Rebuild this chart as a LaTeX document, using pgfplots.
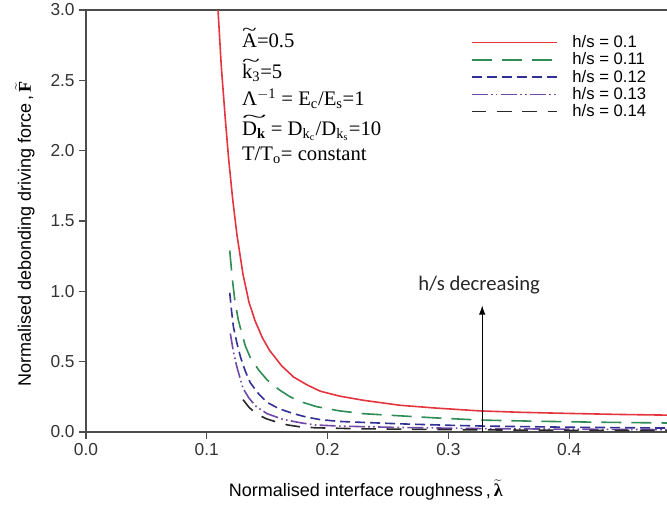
\documentclass[border=0pt]{standalone}
\usepackage{graphicx}
\usepackage{pgfplots}
\pgfplotsset{compat=1.18}
\usepackage{fontspec}
\setmainfont{Liberation Sans}
\newfontfamily\serif{Liberation Serif}
\newfontfamily\carlito{Carlito}
\usetikzlibrary{arrows.meta}
\definecolor{cred}{RGB}{228,52,62}
\definecolor{cgreen}{RGB}{46,140,84}
\definecolor{cblue}{RGB}{50,48,150}
\definecolor{cpurple}{RGB}{112,72,168}
\definecolor{cblack}{RGB}{40,40,40}
\newcommand\tl[2]{\leavevmode\rlap{\raisebox{0.6em}{\scalebox{#1}[0.85]{\textasciitilde}}}#2}
\begin{document}
\begin{tikzpicture}
\begin{axis}[
  scale only axis,
  width=435.75pt, height=316.5pt,
  xmin=0, xmax=0.481, ymin=0, ymax=3,
  axis x line*=box, axis y line*=left,
  xtick pos=lower,
  axis line style={draw=black!70, line width=1pt},
  xtick={0,0.1,0.2,0.3,0.4},
  ytick={0,0.5,1,1.5,2,2.5,3},
  tick align=outside,
  major tick length=5pt,
  tick style={draw=black!70, line width=0.8pt},
  /pgf/number format/assume math mode=true,
  /pgf/number format/.cd, fixed, fixed zerofill, precision=1, /pgfplots/.cd,
  ticklabel style={font=\fontsize{13}{15}\selectfont, text=black!80},
  xlabel={Normalised interface roughness\,,\,$\widetilde{\mbox{\serif\bfseries λ}}$},
  ylabel={Normalised debonding driving force\,,\,$\widetilde{\mbox{\serif\bfseries F}}$},
  label style={font=\fontsize{13.5}{15}\selectfont},
  xlabel style={yshift=-11pt, xshift=-8pt},
  ylabel style={xshift=-10pt, yshift=5pt},
  legend style={at={(rel axis cs:0.655,0.953)}, anchor=north west, draw=none, fill=none,
    nodes={font=\fontsize{12.5}{14}\selectfont}, row sep=-1.6pt},
  legend cell align=left,
  legend image code/.code={\draw[#1] (0pt,0pt) -- (64pt,0pt);},
  every axis legend/.append style={/tikz/every odd column/.append style={column sep=9pt}},
]
\addplot[cred, line width=1.2pt] coordinates {
(0.1093,3.0) (0.112,2.6) (0.1151,2.25) (0.118,1.95) (0.1215,1.65) (0.125,1.40) (0.130,1.12) (0.135,0.92) (0.140,0.79) (0.146,0.67) (0.152,0.58) (0.162,0.47) (0.172,0.39) (0.183,0.335) (0.194,0.29) (0.21,0.255) (0.23,0.225) (0.26,0.19) (0.29,0.17) (0.326,0.15) (0.36,0.14) (0.40,0.132) (0.44,0.125) (0.481,0.12)};
\addlegendentry{h/s = 0.1}
\addplot[cgreen, line width=1.2pt, dash pattern=on 15pt off 7.5pt] coordinates {
(0.119,1.29) (0.121,1.10) (0.123,0.95) (0.126,0.80) (0.129,0.70) (0.132,0.61) (0.136,0.53) (0.143,0.44) (0.150,0.37) (0.160,0.30) (0.169,0.25) (0.178,0.215) (0.191,0.18) (0.21,0.15) (0.23,0.13) (0.26,0.115) (0.29,0.10) (0.326,0.085) (0.37,0.077) (0.42,0.07) (0.481,0.064)};
\addlegendentry{h/s = 0.11}
\addplot[cblue, line width=1.2pt, dash pattern=on 7.5pt off 3.75pt] coordinates {
(0.119,0.99) (0.1205,0.86) (0.122,0.75) (0.125,0.63) (0.128,0.53) (0.132,0.43) (0.136,0.35) (0.143,0.27) (0.150,0.21) (0.160,0.165) (0.172,0.13) (0.183,0.105) (0.194,0.088) (0.21,0.075) (0.23,0.068) (0.26,0.058) (0.30,0.048) (0.33,0.042) (0.40,0.034) (0.481,0.028)};
\addlegendentry{h/s = 0.12}
\addplot[cpurple, line width=1.2pt, dash pattern=on 12pt off 2.5pt on 1.2pt off 2.5pt on 1.2pt off 2.5pt] coordinates {
(0.1195,0.70) (0.122,0.57) (0.125,0.46) (0.128,0.37) (0.130,0.31) (0.135,0.24) (0.141,0.18) (0.150,0.13) (0.163,0.09) (0.178,0.065) (0.19,0.05) (0.21,0.042) (0.26,0.032) (0.33,0.024) (0.40,0.02) (0.481,0.017)};
\addlegendentry{h/s = 0.13}
\addplot[cblack, line width=1.2pt, dash pattern=on 11pt off 8pt] coordinates {
(0.130,0.23) (0.135,0.175) (0.141,0.13) (0.149,0.095) (0.158,0.07) (0.167,0.05) (0.177,0.037) (0.19,0.03) (0.22,0.024) (0.26,0.02) (0.33,0.015) (0.40,0.012) (0.481,0.01)};
\addlegendentry{h/s = 0.14}
\draw[-{Latex[length=7pt,width=5pt]}, line width=0.8pt] (axis cs:0.328,0) -- (axis cs:0.328,0.90);
\node[font=\carlito\fontsize{15.5}{17}\selectfont, text=black!85] at (axis cs:0.3255,1.045) {h/s decreasing};
\begin{scope}[every node/.style={anchor=west, font=\serif\fontsize{15.5}{17}\selectfont, inner sep=0pt}]
\node at (axis cs:0.129,2.80) {\tl{1.3}{A}=0.5};
\node at (axis cs:0.129,2.57) {\tl{1.6}{k\textsubscript{3}}=5};
\node at (axis cs:0.129,2.37) {Λ\textsuperscript{$-$1} = E\textsubscript{c}/E\textsubscript{s}=1};
\node at (axis cs:0.129,2.16) {\tl{2.2}{D\textsubscript{\bfseries k}} = D\textsubscript{k\textsubscript{c}}/D\textsubscript{k\textsubscript{s}}=10};
\node at (axis cs:0.129,1.97) {T/T\textsubscript{o}= constant};
\end{scope}
\end{axis}
\pgfresetboundingbox
\path ([shift={(-64.5pt,-54pt)}]current axis.south west) rectangle ([shift={(0pt,7.5pt)}]current axis.north east);
\end{tikzpicture}
\end{document}
